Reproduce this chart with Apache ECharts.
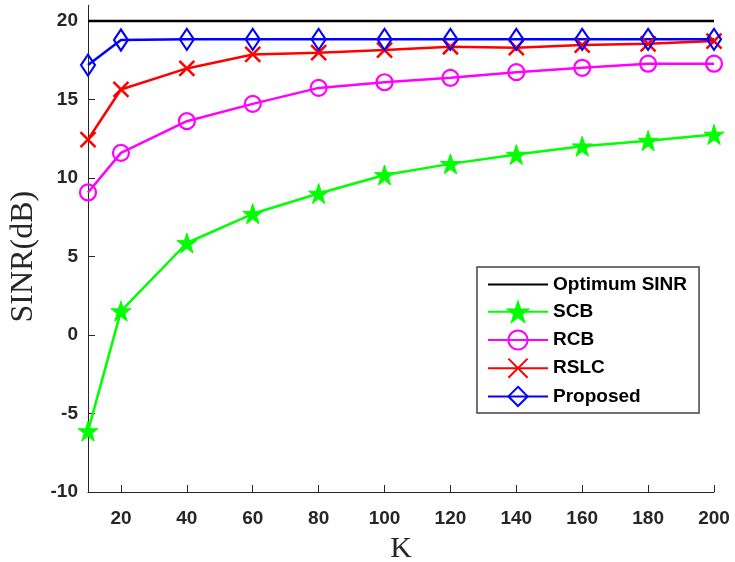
<!DOCTYPE html>
<html>
<head>
<meta charset="utf-8">
<script src="https://cdn.jsdelivr.net/npm/echarts@6/dist/echarts.min.js"></script>
<style>
html,body{margin:0;padding:0;background:#fff;}
#main{width:735px;height:562px;}
</style>
</head>
<body>
<div id="main"></div>
<script>
// ---- data ----
const K = [10, 20, 40, 60, 80, 100, 120, 140, 160, 180, 200];
const optimum = [20, 20, 20, 20, 20, 20, 20, 20, 20, 20, 20];
const scb = [-6.12, 1.52, 5.86, 7.72, 9.01, 10.19, 10.9, 11.49, 12.02, 12.38, 12.77];
const rcb = [9.08, 11.6, 13.62, 14.72, 15.74, 16.1, 16.38, 16.74, 17.02, 17.28, 17.28];
const rslc = [12.45, 15.64, 16.98, 17.87, 17.98, 18.15, 18.36, 18.3, 18.47, 18.55, 18.72];
const proposed = [17.19, 18.79, 18.83, 18.83, 18.83, 18.83, 18.83, 18.83, 18.83, 18.83, 18.83];
const xTicks = [20, 40, 60, 80, 100, 120, 140, 160, 180, 200];
const yTicks = [-10, -5, 0, 5, 10, 15, 20];

const pts = (ys) => K.map((k, i) => [k, ys[i]]);
const STAR = 'path://M50,0 L61.8,35.1 L98.6,35.1 L68.8,56.8 L80.2,91.9 L50,70.2 L19.8,91.9 L31.2,56.8 L1.4,35.1 L38.2,35.1 Z';
const CROSS = 'path://M0,0 L10,10 M10,0 L0,10';

const chart = echarts.init(document.getElementById('main'), null, {renderer: 'canvas'});
const lab = {fontFamily: 'Liberation Sans, Arial, sans-serif', fontWeight: 'bold', fontSize: 19, color: '#262626'};

chart.setOption({
  animation: false,
  backgroundColor: '#fff',
  grid: {left: 88, right: 21, top: 5.3, bottom: 70, containLabel: false, outerBoundsMode: 'none'},
  legend: {
    orient: 'vertical',
    left: 477, top: 267,
    padding: [8, 12, 6, 10],
    itemWidth: 60, itemHeight: 24, itemGap: 7,
    borderColor: '#444', borderWidth: 1.5,
    backgroundColor: '#fff',
    textStyle: {fontFamily: 'Liberation Sans, Arial, sans-serif', fontWeight: 'bold', fontSize: 19, color: '#000'},
    data: [
      {name: 'Optimum SINR', itemStyle: {opacity: 0, color: 'rgba(0,0,0,0)', borderWidth: 0}},
      'SCB', 'RCB', 'RSLC', 'Proposed'
    ]
  },
  xAxis: {
    type: 'value', min: 10, max: 200,
    name: 'K', nameLocation: 'middle', nameGap: 42,
    nameTextStyle: {fontFamily: 'Liberation Serif, Times New Roman, serif', fontSize: 30, color: '#262626'},
    axisLine: {onZero: false, lineStyle: {color: '#262626', width: 1}},
    axisTick: {inside: true, length: 7, customValues: xTicks, lineStyle: {color: '#262626'}},
    axisLabel: Object.assign({customValues: xTicks, margin: 17}, lab),
    splitLine: {show: false}
  },
  yAxis: {
    type: 'value', min: -10, max: 21,
    name: 'SINR(dB)', nameLocation: 'middle', nameGap: 44,
    nameTextStyle: {fontFamily: 'Liberation Serif, Times New Roman, serif', fontSize: 32, color: '#262626', padding: [0, 16, 0, 0]},
    axisLine: {show: true, onZero: false, lineStyle: {color: '#262626', width: 1}},
    axisTick: {show: true, inside: true, length: 7, customValues: yTicks, lineStyle: {color: '#262626'}},
    axisLabel: Object.assign({customValues: yTicks, margin: 10}, lab),
    splitLine: {show: false}
  },
  series: [
    {name: 'Optimum SINR', type: 'line', data: pts(optimum), symbol: 'none',
     lineStyle: {color: '#000', width: 2.5}, itemStyle: {color: '#000'}, z: 1},
    {name: 'SCB', type: 'line', data: pts(scb), symbol: STAR, symbolSize: 20,
     lineStyle: {color: '#00ff00', width: 2.5}, itemStyle: {color: '#00ff00', borderColor: '#00ff00', borderWidth: 1}},
    {name: 'RCB', type: 'line', data: pts(rcb), symbol: 'circle', symbolSize: 16,
     lineStyle: {color: '#ff00ff', width: 2.5}, itemStyle: {color: 'rgba(0,0,0,0)', borderColor: '#ff00ff', borderWidth: 2.2}},
    {name: 'RSLC', type: 'line', data: pts(rslc), symbol: CROSS, symbolSize: 15,
     lineStyle: {color: '#ff0000', width: 2.5}, itemStyle: {color: 'rgba(0,0,0,0)', borderColor: '#ff0000', borderWidth: 2.5}},
    {name: 'Proposed', type: 'line', data: pts(proposed), symbol: 'diamond', symbolSize: [14, 21],
     lineStyle: {color: '#0000ff', width: 2.5}, itemStyle: {color: 'rgba(0,0,0,0)', borderColor: '#0000ff', borderWidth: 2.2}}
  ]
});
</script>
</body>
</html>
